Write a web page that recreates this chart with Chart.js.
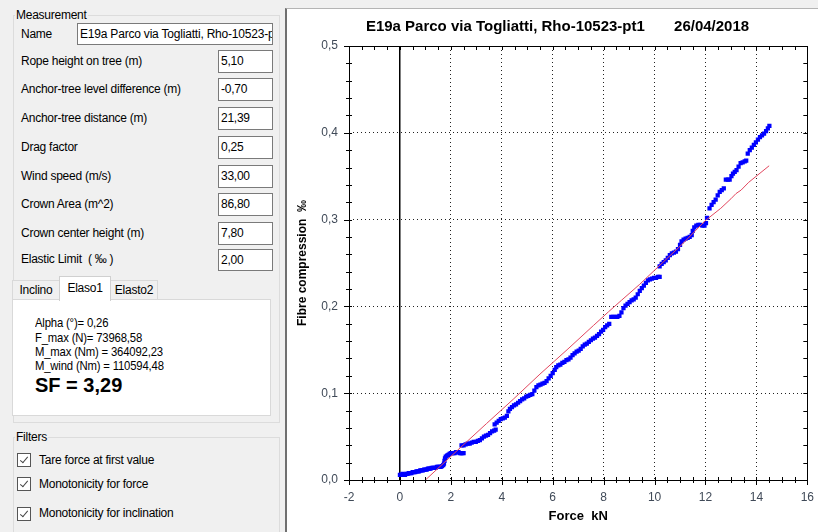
<!DOCTYPE html>
<html>
<head>
<meta charset="utf-8">
<script src="https://cdn.jsdelivr.net/npm/chart.js@4.4.0/dist/chart.umd.min.js"></script>
<style>
body{margin:0;width:818px;height:532px;background:#f0f0f0;overflow:hidden;position:relative;font-family:"Liberation Sans",Arial,sans-serif;font-size:12px;color:#000}
.t{position:absolute;white-space:nowrap;line-height:14px;height:14px;letter-spacing:-0.25px}
.box{position:absolute;background:#fff;border:1px solid #7a7a7a;box-sizing:border-box;padding:3px 0 0 2px;overflow:hidden;white-space:nowrap;letter-spacing:-0.25px;line-height:14px}
.grp{position:absolute;border:1px solid #dcdcdc;box-sizing:border-box}
.cap{position:absolute;background:#f0f0f0;padding:0 1px;line-height:14px;letter-spacing:-0.25px}
.tab{position:absolute;box-sizing:border-box;border:1px solid #d9d9d9;border-bottom:none;background:#f0f0f0;text-align:center;line-height:18px;letter-spacing:-0.25px}
.chk{position:absolute;width:14px;height:14px;box-sizing:border-box;border:1px solid #555;background:#fff}
.chk:after{content:"";position:absolute;left:4px;top:1px;width:3px;height:7px;border:solid #444;border-width:0 1.5px 1.5px 0;transform:rotate(40deg)}
.res{position:absolute;left:35px;white-space:nowrap;font-size:13px;line-height:14px;transform:scaleX(0.87);transform-origin:0 0;letter-spacing:-0.2px}
#panel{position:absolute;left:285px;top:8px;width:533px;height:524px;background:#fff;border-top:1px solid #b4b4b4;border-left:2px solid #707070;box-sizing:border-box}
canvas{position:absolute;left:287px;top:10px}
</style>
</head>
<body>
<div class="grp" style="left:13px;top:15px;width:267px;height:408px"></div>
<div class="cap" style="left:15px;top:8px">Measurement</div>
<div class="t" style="left:21px;top:27px">Name</div>
<div class="box" style="left:77px;top:23px;width:196px;height:22px;letter-spacing:-0.2px">E19a Parco via Togliatti, Rho-10523-pt1</div>

<div class="t" style="left:21px;top:54px">Rope height on tree (m)</div>
<div class="box" style="left:218px;top:50px;width:55px;height:23px">5,10</div>
<div class="t" style="left:21px;top:82px">Anchor-tree level difference (m)</div>
<div class="box" style="left:218px;top:78px;width:55px;height:23px">-0,70</div>
<div class="t" style="left:21px;top:111px">Anchor-tree distance (m)</div>
<div class="box" style="left:218px;top:107px;width:55px;height:23px">21,39</div>
<div class="t" style="left:21px;top:140px">Drag factor</div>
<div class="box" style="left:218px;top:136px;width:55px;height:23px">0,25</div>
<div class="t" style="left:21px;top:169px">Wind speed (m/s)</div>
<div class="box" style="left:218px;top:165px;width:55px;height:23px">33,00</div>
<div class="t" style="left:21px;top:197px">Crown Area (m^2)</div>
<div class="box" style="left:218px;top:193px;width:55px;height:23px">86,80</div>
<div class="t" style="left:21px;top:226px">Crown center height (m)</div>
<div class="box" style="left:218px;top:222px;width:55px;height:23px">7,80</div>
<div class="t" style="left:21px;top:252px">Elastic Limit&nbsp; ( ‰ )</div>
<div class="box" style="left:218px;top:249px;width:55px;height:22px">2,00</div>

<div class="tab" style="left:12px;top:280px;width:48px;height:20px">Inclino</div>
<div class="tab" style="left:110px;top:280px;width:48px;height:20px">Elasto2</div>
<div style="position:absolute;left:12px;top:299px;width:259px;height:117px;background:#fff;border:1px solid #d9d9d9;box-sizing:border-box"></div>
<div class="tab" style="left:59px;top:276px;width:52px;height:25px;background:#fff;line-height:22px;border-color:#d0d0d0">Elaso1</div>

<div class="res" style="top:316px">Alpha (°)= 0,26</div>
<div class="res" style="top:331px">F_max (N)= 73968,58</div>
<div class="res" style="top:345px">M_max (Nm) = 364092,23</div>
<div class="res" style="top:359px">M_wind (Nm) = 110594,48</div>
<div style="position:absolute;left:35px;top:373px;font-size:20px;font-weight:bold;line-height:24px;white-space:nowrap">SF = 3,29</div>

<div class="grp" style="left:13px;top:437px;width:267px;height:110px"></div>
<div class="cap" style="left:15px;top:430px">Filters</div>
<div class="chk" style="left:17px;top:453px"></div>
<div class="t" style="left:39px;top:453px">Tare force at first value</div>
<div class="chk" style="left:17px;top:477px"></div>
<div class="t" style="left:39px;top:477px">Monotonicity for force</div>
<div class="chk" style="left:17px;top:507px"></div>
<div class="t" style="left:39px;top:506px">Monotonicity for inclination</div>

<div id="panel"></div>
<canvas id="elasto" width="531" height="522"></canvas>

<script>
// tick labels
const xTickLabels = ['-2', '0', '2', '4', '6', '8', '10', '12', '14', '16'];
const yTickLabels = ['0,0', '0,1', '0,2', '0,3', '0,4', '0,5'];

// measured points: force (kN) / fibre compression (permille)
const blueForce = [
    0.00, 0.05, 0.10, 0.15, 0.20, 0.25, 0.30, 0.35, 0.40, 0.45, 0.50, 0.55, 0.60, 0.65, 0.70, 0.75, 0.80, 0.85,
    0.90, 0.95, 1.00, 1.05, 1.10, 1.15, 1.20, 1.25, 1.30, 1.35, 1.40, 1.45, 1.50, 1.55, 1.60, 1.65, 1.70,
    1.73, 1.75, 1.77, 1.80, 1.85, 1.90, 1.95, 2.00, 2.05, 2.10, 2.15, 2.20, 2.25, 2.30, 2.35, 2.40, 2.45, 2.50,
    2.42, 2.50, 2.58, 2.66, 2.74, 2.82, 2.90, 2.98, 3.06, 3.14, 3.22, 3.30, 3.38, 3.46, 3.54, 3.62, 3.70, 3.76,
    3.72, 3.80, 3.88, 3.96, 4.04, 4.12, 4.20, 4.26, 4.32, 4.40, 4.48, 4.56, 4.64, 4.72, 4.80, 4.88, 4.96, 5.04,
    5.12, 5.20, 5.28, 5.36, 5.44, 5.52, 5.60, 5.68, 5.76, 5.84, 5.92,
    6.00, 6.08, 6.14, 6.22, 6.30, 6.38, 6.46, 6.54, 6.62, 6.70, 6.78, 6.86, 6.94, 7.02, 7.10, 7.18, 7.26, 7.34,
    7.42, 7.50, 7.58, 7.66, 7.74, 7.82, 7.90, 7.98, 8.06, 8.14, 8.22,
    8.30, 8.38, 8.46, 8.54, 8.62, 8.70, 8.78, 8.86, 8.94, 9.02, 9.10, 9.18, 9.26, 9.34,
    9.42, 9.50, 9.58, 9.66, 9.74, 9.82, 9.90, 9.98, 10.06, 10.14, 10.20,
    10.20, 10.28, 10.36, 10.44, 10.52, 10.60, 10.68, 10.76, 10.84, 10.92, 11.00, 11.06, 11.14, 11.22, 11.30,
    11.38, 11.46, 11.50, 11.56, 11.64, 11.72, 11.80, 11.88, 11.96, 12.02, 12.06,
    12.16, 12.24, 12.32, 12.40, 12.48, 12.56, 12.64, 12.72, 12.80, 12.88, 12.95, 13.02, 13.08, 13.15, 13.22,
    13.30, 13.38, 13.46, 13.54, 13.60, 13.66, 13.74, 13.82, 13.90, 13.98, 14.06, 14.14, 14.22, 14.30, 14.38,
    14.45, 14.51
];
const blueStrain = [
    0.006, 0.006, 0.007, 0.006, 0.006, 0.007, 0.007, 0.008, 0.008, 0.008, 0.009, 0.009, 0.009, 0.010, 0.010, 0.010, 0.011, 0.011,
    0.011, 0.012, 0.012, 0.012, 0.013, 0.013, 0.013, 0.014, 0.014, 0.014, 0.014, 0.015, 0.015, 0.015, 0.015, 0.016, 0.017,
    0.019, 0.022, 0.025, 0.027, 0.028, 0.029, 0.030, 0.031, 0.031, 0.031, 0.031, 0.032, 0.032, 0.032, 0.031, 0.031, 0.031, 0.031,
    0.040, 0.040, 0.041, 0.042, 0.042, 0.043, 0.044, 0.044, 0.045, 0.046, 0.048, 0.050, 0.051, 0.052, 0.054, 0.056, 0.057, 0.058,
    0.064, 0.066, 0.068, 0.070, 0.071, 0.072, 0.074, 0.079, 0.082, 0.084, 0.086, 0.087, 0.089, 0.091, 0.093, 0.094, 0.096, 0.097,
    0.098, 0.099, 0.103, 0.107, 0.109, 0.110, 0.111, 0.112, 0.114, 0.117, 0.120,
    0.123, 0.127, 0.130, 0.132, 0.133, 0.135, 0.136, 0.138, 0.139, 0.141, 0.144, 0.146, 0.148, 0.149, 0.151, 0.154, 0.156, 0.157,
    0.159, 0.161, 0.163, 0.164, 0.166, 0.168, 0.171, 0.173, 0.176, 0.178, 0.180,
    0.188, 0.188, 0.188, 0.188, 0.189, 0.193, 0.198, 0.201, 0.203, 0.205, 0.207, 0.208, 0.210, 0.214,
    0.218, 0.221, 0.224, 0.227, 0.230, 0.231, 0.232, 0.233, 0.233, 0.234, 0.234,
    0.246, 0.249, 0.251, 0.253, 0.256, 0.259, 0.261, 0.262, 0.263, 0.266, 0.271, 0.275, 0.277, 0.278, 0.279,
    0.280, 0.282, 0.287, 0.291, 0.293, 0.294, 0.294, 0.293, 0.293, 0.296, 0.302,
    0.313, 0.317, 0.320, 0.323, 0.328, 0.332, 0.334, 0.336, 0.346, 0.346, 0.346, 0.350, 0.353, 0.355, 0.357,
    0.361, 0.365, 0.366, 0.367, 0.368, 0.376, 0.380, 0.383, 0.386, 0.389, 0.392, 0.395, 0.397, 0.399, 0.402,
    0.405, 0.408
];

// elastic fit line
const fitForce = [1.00, 2.40, 3.40, 4.45, 5.50, 6.60, 7.60, 8.20, 8.70, 9.40, 10.30, 11.10, 12.00, 12.60, 13.00, 13.20, 13.40, 13.70, 14.50];
const fitStrain = [0.000, 0.038, 0.065, 0.093, 0.122, 0.151, 0.178, 0.194, 0.207, 0.225, 0.250, 0.272, 0.299, 0.313, 0.324, 0.330, 0.334, 0.343, 0.362];

const labelColor = '#404a58';

// frame + small tick marks all round the plot
const frameTicks = {
    id: 'frameTicks',
    afterDraw(chart){
        const ctx = chart.ctx;
        const a = chart.chartArea;
        const x = chart.scales.x;
        const y = chart.scales.y;
        ctx.save();
        ctx.strokeStyle = '#000';
        ctx.lineWidth = 1;
        ctx.beginPath();
        for (let i = 0; i <= 36; i++) {
            const px = Math.round(x.getPixelForValue(-2 + i * 0.5)) + 0.5;
            const major = i % 4 === 0;
            ctx.moveTo(px, a.bottom - 3);
            ctx.lineTo(px, a.bottom + (major ? 5 : 3));
            ctx.moveTo(px, a.top);
            ctx.lineTo(px, a.top + 4);
        }
        for (let i = 0; i <= 25; i++) {
            const py = Math.round(y.getPixelForValue(i * 0.02)) + 0.5;
            const major = i % 5 === 0;
            ctx.moveTo(a.left - (major ? 5 : 3), py);
            ctx.lineTo(a.left + 3, py);
            ctx.moveTo(a.right - 4, py);
            ctx.lineTo(a.right, py);
        }
        ctx.stroke();
        ctx.strokeRect(Math.round(a.left) + 0.5, Math.round(a.top) + 0.5, Math.round(a.right - a.left), Math.round(a.bottom - a.top));
        ctx.restore();
    }
};

var ctx = document.getElementById('elasto').getContext('2d');
var myChart = new Chart(ctx, {
    type: 'scatter',
    data: {
        datasets: [{
            label: 'fit',
            data: fitForce.map((f, i) => ({x: f, y: fitStrain[i]})),
            showLine: true,
            borderColor: '#e2475f',
            borderWidth: 1,
            pointRadius: 0
        }, {
            label: 'measure',
            data: blueForce.map((f, i) => ({x: f, y: blueStrain[i]})),
            pointStyle: 'rect',
            pointRadius: 3,
            pointBorderWidth: 0,
            backgroundColor: '#0000ff',
            borderColor: '#0000ff'
        }]
    },
    options: {
        responsive: false,
        devicePixelRatio: 1,
        animation: false,
        layout: {
            padding: {left: 20, right: 10, top: 0, bottom: 0}
        },
        plugins: {
            legend: {display: false},
            tooltip: {enabled: false},
            title: {
                display: true,
                text: 'E19a Parco via Togliatti, Rho-10523-pt1       26/04/2018',
                color: '#000',
                font: {family: 'Liberation Sans', size: 15, weight: 'bold'},
                padding: {top: 8, bottom: 10}
            }
        },
        scales: {
            x: {
                type: 'linear',
                min: -2,
                max: 16,
                afterFit: function(scale){ scale.height = 52; },
                ticks: {
                    stepSize: 2,
                    autoSkip: false,
                    maxRotation: 0,
                    padding: 4,
                    color: labelColor,
                    font: {family: 'Liberation Sans', size: 12},
                    callback: (v, i) => xTickLabels[i]
                },
                grid: {
                    color: c => c.tick && c.tick.value === 0 ? '#000' : '#222',
                    lineWidth: c => c.tick && c.tick.value === 0 ? 1.5 : 1,
                    tickColor: 'transparent',
                    tickLength: 6
                },
                border: {
                    display: false,
                    dash: c => c.tick && c.tick.value === 0 ? [] : [1, 3]
                },
                title: {
                    display: true,
                    text: 'Force  kN',
                    color: '#000',
                    font: {family: 'Liberation Sans', size: 13, weight: 'bold'},
                    padding: {top: 0, bottom: 7.5}
                }
            },
            y: {
                type: 'linear',
                min: 0,
                max: 0.5,
                afterFit: function(scale){ scale.width = 42; },
                ticks: {
                    stepSize: 0.1,
                    padding: 5,
                    color: labelColor,
                    font: {family: 'Liberation Sans', size: 12},
                    callback: (v, i) => yTickLabels[i]
                },
                grid: {
                    color: '#222',
                    tickColor: 'transparent',
                    tickLength: 6
                },
                border: {
                    display: false,
                    dash: [1, 3]
                },
                title: {
                    display: true,
                    text: 'Fibre compression  ‰',
                    color: '#000',
                    font: {family: 'Liberation Sans', size: 12, weight: 'bold'},
                    padding: {top: -11.5, bottom: 0}
                }
            }
        }
    },
    plugins: [frameTicks]
});
</script>
</body>
</html>
